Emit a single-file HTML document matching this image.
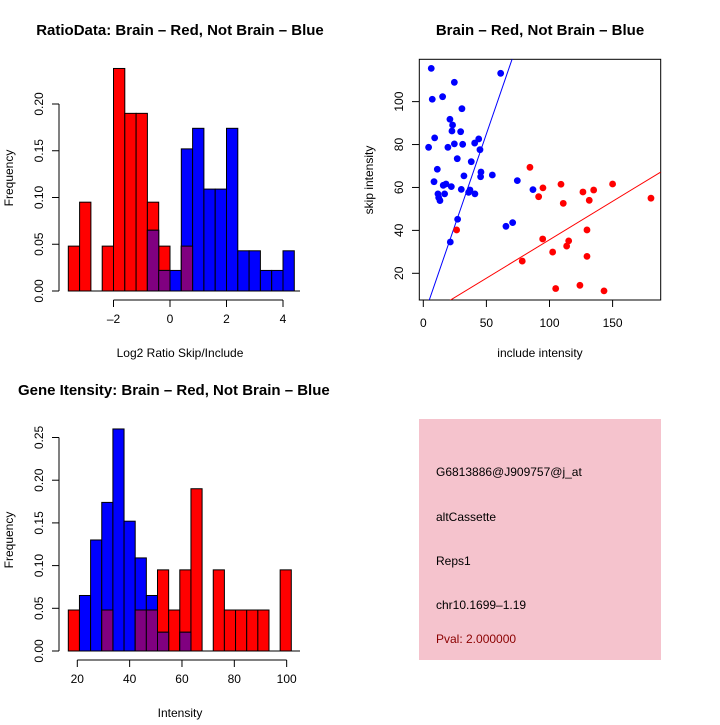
<!DOCTYPE html>
<html><head><meta charset="utf-8"><style>
body{margin:0;background:#fff}
svg text{font-family:"Liberation Sans",sans-serif;font-size:12px;fill:#000}
.t{font-weight:bold;font-size:15px}
</style></head><body>
<svg id="s" width="720" height="720" xmlns="http://www.w3.org/2000/svg">
<rect width="720" height="720" fill="#fff"/>
<text class="t" x="180" y="35" text-anchor="middle">RatioData: Brain – Red, Not Brain – Blue</text>
<text class="t" x="540" y="35" text-anchor="middle">Brain – Red, Not Brain – Blue</text>
<text class="t" x="18" y="395">Gene Itensity: Brain – Red, Not Brain – Blue</text>
<text x="180" y="357" text-anchor="middle">Log2 Ratio Skip/Include</text>
<text transform="translate(13,178) rotate(-90)" text-anchor="middle">Frequency</text>
<text x="180" y="717" text-anchor="middle">Intensity</text>
<text transform="translate(13,540) rotate(-90)" text-anchor="middle">Frequency</text>
<text x="540" y="357" text-anchor="middle">include intensity</text>
<text transform="translate(373,180) rotate(-90)" text-anchor="middle">skip intensity</text>
<g>
<rect x="419" y="419" width="242" height="241" fill="#f5c3cd"/>
<text x="436" y="476">G6813886@J909757@j_at</text>
<text x="436" y="521">altCassette</text>
<text x="436" y="565">Reps1</text>
<text x="436" y="609">chr10.1699–1.19</text>
<text x="436" y="643" style="fill:#8b0000">Pval: 2.000000</text>
</g>
<g id="g"></g>
</svg>
<script>
// Ratio histogram (bins of 0.4 from -3.6)
const ratioRed=[0.048,0.095,0,0.048,0.238,0.19,0.19,0.095,0.048,0,0.048,0,0,0,0,0,0,0,0,0];
const ratioBlue=[0,0,0,0,0,0,0,0.065,0.022,0.022,0.152,0.174,0.109,0.109,0.174,0.043,0.043,0.022,0.022,0.043];
const ratioXTicks=[-2,0,2,4];
const ratioYTicks=[0,0.05,0.10,0.15,0.20];
// Intensity histogram (bins from 16.6, width 4.26)
const intRed=[0.048,0,0,0.048,0,0,0.048,0.048,0.095,0.048,0.095,0.19,0,0.095,0.048,0.048,0.048,0.048,0,0.095];
const intBlue=[0,0.065,0.13,0.174,0.26,0.152,0.109,0.065,0.022,0,0.022,0,0,0,0,0,0,0,0,0];
const intXTicks=[20,40,60,80,100];
const intYTicks=[0,0.05,0.10,0.15,0.20,0.25];
// Scatter
const blueX=[6.3,7.1,15.3,24.6,30.6,21.1,23.2,22.7,29.6,9,4.2,19.5,24.6,31.2,40.7,43.9,44.9,26.9,38,11.1,32.2,45.7,45.4,54.7,8.5,15.8,18,22.2,30.1,37,35.9,40.9,16.9,11.6,12.2,13.2,74.5,86.9,27.2,21.4,65.5,70.8,61.3];
const blueY=[115.5,101.1,102.3,109,96.7,91.8,89.1,86.3,86,83.1,78.7,78.7,80.3,80.1,80.7,82.6,77.6,73.4,72,68.5,65.4,67.2,65,65.8,62.7,61,61.6,60.4,59.1,58.8,57.7,57,57,57,55.3,53.9,63.2,59,45.2,34.6,41.9,43.6,113.2];
const redX=[26.4,84.5,94.8,91.4,94.6,109.1,110.9,126.5,135,131.5,150,180.4,129.7,115.2,113.6,102.5,78.4,129.7,104.9,124.1,143.2];
const redY=[40.2,69.4,59.8,55.7,36,61.5,52.6,57.9,58.8,54,61.6,55,40.2,35.1,32.7,29.9,25.7,27.9,12.9,14.4,11.8];
const blueFit=[-0.53,1.71];
const redFit=[-0.17,0.358];
const scXTicks=[0,50,100,150];
const scYTicks=[20,40,60,80,100];

const NS="http://www.w3.org/2000/svg", G=document.getElementById('g');
function mk(t,a,p){const e=document.createElementNS(NS,t);for(const k in a)e.setAttribute(k,a[k]);(p||G).appendChild(e);return e;}

function hist(red,blue,x0,bw,y0,ppu,xs,xTicks,yTicks,pre){
  const n=red.length, bx=i=>x0+i*bw;
  const Y=v=>y0-v*ppu;
  const grp=mk('g',{});
  
  
  const bar=(i,v,c,nm)=>{if(v<=0)return;const r=mk('rect',{x:bx(i),y:Y(v),width:bw,height:v*ppu,fill:c,stroke:'#000','stroke-width':1},grp);
    
    };
  for(let i=0;i<n;i++)bar(i,red[i],'#ff0000','red-bar');
  for(let i=0;i<n;i++)bar(i,blue[i],'#0000ff','blue-bar');
  for(let i=0;i<n;i++)bar(i,Math.min(red[i],blue[i]),'#800080','overlap-bar');
  mk('line',{x1:x0,x2:300,y1:y0,y2:y0,stroke:'#000'});
  const ya=mk('g',{});
  
  
  mk('line',{x1:59,x2:59,y1:Y(yTicks[0]),y2:Y(yTicks[yTicks.length-1]),stroke:'#000'},ya);
  yTicks.forEach(v=>{mk('line',{x1:52,x2:59,y1:Y(v),y2:Y(v),stroke:'#000'},ya);
    const t=mk('text',{transform:`translate(43,${Y(v)}) rotate(-90)`,'text-anchor':'middle'},ya);t.textContent=v.toFixed(2);});
  const xa=mk('g',{});
  
  
  const ly=y0+9;
  mk('line',{x1:xs(xTicks[0]),x2:xs(xTicks[xTicks.length-1]),y1:ly,y2:ly,stroke:'#000'},xa);
  xTicks.forEach(v=>{mk('line',{x1:xs(v),x2:xs(v),y1:ly,y2:ly+7,stroke:'#000'},xa);
    const t=mk('text',{x:xs(v),y:ly+23,'text-anchor':'middle'},xa);t.textContent=String(v).replace('-','–');});
}
hist(ratioRed,ratioBlue,68.3,11.3,291,935,v=>170+v*28.25,ratioXTicks,ratioYTicks,'ratio');
hist(intRed,intBlue,68.3,11.15,651,854,v=>77.3+(v-20)*2.617,intXTicks,intYTicks,'intensity');

const SX=v=>423.3+v*1.262, SY=v=>273.3-(v-20)*2.146;
const box=mk('rect',{x:419.3,y:59.3,width:241.4,height:240.7,fill:'none',stroke:'#000'});


const clip=mk('clipPath',{id:'cp'});mk('rect',{x:419.3,y:59.3,width:241.4,height:240.7},clip);
function fit(f,c,nm){const xa=0,xb=188;const l=mk('line',{x1:SX(xa),y1:SY(f[0]+f[1]*xa),x2:SX(xb),y2:SY(f[0]+f[1]*xb),stroke:c,'clip-path':'url(#cp)'});
  
  }
fit(blueFit,'#0000ff','blue-fit-line');fit(redFit,'#ff0000','red-fit-line');
const sp=mk('g',{});


blueX.forEach((x,i)=>{const c=mk('circle',{cx:SX(x),cy:SY(blueY[i]),r:3.4,fill:'#0000ff'},sp);
  
  });
redX.forEach((x,i)=>{const c=mk('circle',{cx:SX(x),cy:SY(redY[i]),r:3.4,fill:'#ff0000'},sp);
  
  });
const sxa=mk('g',{});


scXTicks.forEach(v=>{mk('line',{x1:SX(v),x2:SX(v),y1:300,y2:307,stroke:'#000'},sxa);
  const t=mk('text',{x:SX(v),y:327,'text-anchor':'middle'},sxa);t.textContent=v;});
const sya=mk('g',{});


scYTicks.forEach(v=>{mk('line',{x1:412,x2:419.3,y1:SY(v),y2:SY(v),stroke:'#000'},sya);
  const t=mk('text',{transform:`translate(403,${SY(v)}) rotate(-90)`,'text-anchor':'middle'},sya);t.textContent=v;});
</script>
</body></html>
